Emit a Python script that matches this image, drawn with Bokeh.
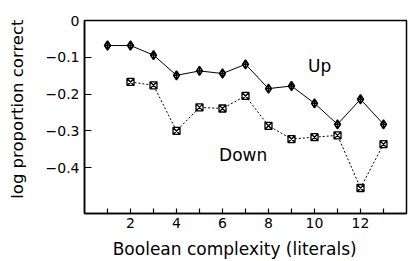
import math
from bokeh.plotting import figure
from bokeh.models import Range1d, FixedTicker, Label, CustomJSTickFormatter
from bokeh.embed import file_html
from bokeh.resources import INLINE

# Data
complexity_up = [1, 2, 3, 4, 5, 6, 7, 8, 9, 10, 11, 12, 13]
up_values = [-0.068, -0.068, -0.094, -0.149, -0.137, -0.144, -0.119,
             -0.185, -0.178, -0.225, -0.282, -0.214, -0.282]
complexity_down = [2, 3, 4, 5, 6, 7, 8, 9, 10, 11, 12, 13]
down_values = [-0.167, -0.176, -0.300, -0.236, -0.239, -0.205,
               -0.286, -0.322, -0.317, -0.312, -0.455, -0.336]

x_major_ticks = [2, 4, 6, 8, 10, 12]
x_minor_ticks = [1, 3, 5, 7, 9, 11, 13]
y_ticks = [0, -0.1, -0.2, -0.3, -0.4]

x_title = "Boolean complexity (literals)"
y_title = "log proportion correct"
up_name = "Up"
down_name = "Down"

FONT = "DejaVu Sans"
NBSP = "\u00a0"

p = figure(width=408, height=261, output_backend="svg", toolbar_location=None,
           x_range=Range1d(0, 14), y_range=Range1d(-0.5243, 0),
           min_border_left=84, min_border_right=2,
           min_border_top=20, min_border_bottom=47)
p.grid.visible = False
p.outline_line_color = "black"
p.outline_line_width = 1.5
p.background_fill_color = "white"
p.border_fill_color = "white"

# x axis
xa = p.xaxis[0]
xa.ticker = FixedTicker(ticks=x_major_ticks, minor_ticks=x_minor_ticks)
xa.major_tick_in = 5
xa.major_tick_out = 0
xa.minor_tick_in = 5
xa.minor_tick_out = 0
xa.axis_line_width = 1.5
xa.major_tick_line_width = 1.2
xa.minor_tick_line_width = 1.2
xa.major_label_text_font = FONT
xa.major_label_text_font_size = "14px"
xa.major_label_text_color = "black"
xa.major_label_standoff = 4
# trailing no-break spaces shift the centred title a little to the left
xa.axis_label = x_title + NBSP * 4
xa.axis_label_text_font = FONT
xa.axis_label_text_font_size = "17px"
xa.axis_label_text_font_style = "normal"
xa.axis_label_text_color = "black"
xa.axis_label_standoff = 8

# y axis
ya = p.yaxis[0]
ya.ticker = FixedTicker(ticks=y_ticks, minor_ticks=[])
ya.formatter = CustomJSTickFormatter(
    code="return Math.abs(tick) < 1e-9 ? '0' : '\u2212' + Math.abs(tick).toFixed(1);")
ya.major_tick_in = 7
ya.major_tick_out = 0
ya.minor_tick_in = 0
ya.minor_tick_out = 0
ya.axis_line_width = 1.5
ya.major_tick_line_width = 1.2
ya.major_label_text_font = FONT
ya.major_label_text_font_size = "14px"
ya.major_label_text_color = "black"
ya.major_label_standoff = 5
# leading no-break spaces shift the centred title a little upwards
ya.axis_label = NBSP * 3 + y_title
ya.axis_label_text_font = FONT
ya.axis_label_text_font_size = "16.5px"
ya.axis_label_text_font_style = "normal"
ya.axis_label_text_color = "black"
ya.axis_label_standoff = 16

# series
p.line(complexity_up, up_values, line_color="black", line_width=1)
p.scatter(complexity_up, up_values, marker="diamond_cross", size=9,
          fill_color="white", line_color="black", line_width=1.5)
p.line(complexity_down, down_values, line_color="black", line_width=1,
       line_dash="2 2")
p.scatter(complexity_down, down_values, marker="square_x", size=7,
          fill_color="white", line_color="black", line_width=1.3)

# in-plot labels
p.add_layout(Label(x=10.22, y=-0.124, text=up_name, text_font=FONT,
                   text_font_size="17px", text_align="center",
                   text_baseline="middle", text_color="black"))
p.add_layout(Label(x=6.90, y=-0.366, text=down_name, text_font=FONT,
                   text_font_size="17px", text_align="center",
                   text_baseline="middle", text_color="black"))

open("out.html", "w").write(file_html(p, INLINE))
